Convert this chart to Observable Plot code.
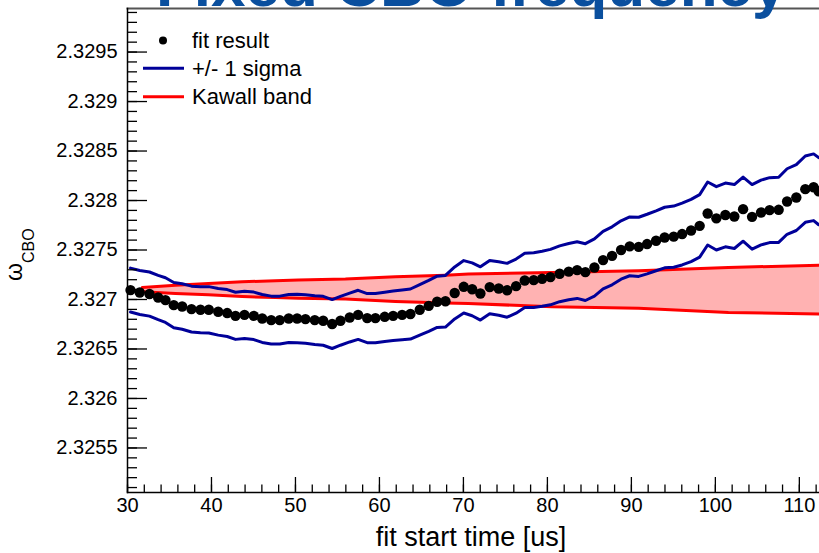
<!DOCTYPE html>
<html><head><meta charset="utf-8">
<script src="https://cdn.jsdelivr.net/npm/d3@7"></script>
<script src="https://cdn.jsdelivr.net/npm/@observablehq/plot@0.6"></script>
<style>
body{margin:0;background:#fff;}
#chart{position:relative;width:819px;height:553px;overflow:hidden;}
</style>
</head><body><div id="chart"></div>
<script>
// fit start time [us]
const fitX = [30.36,31.46,32.62,33.65,34.52,35.51,36.51,37.62,38.69,39.68,
  40.80,41.87,42.86,43.93,45.04,46.04,47.11,48.13,49.20,50.20,
  51.19,52.30,53.30,54.37,55.36,56.46,57.46,58.54,59.52,60.63,
  61.63,62.70,63.69,64.80,65.87,66.87,67.86,68.96,70.04,71.04,
  72.02,73.13,74.20,75.20,76.27,77.30,78.37,79.37,80.36,81.46,
  82.54,83.54,84.52,85.60,86.63,87.70,88.77,89.80,90.87,91.87,
  92.94,93.96,95.04,96.04,97.11,98.13,99.08,100.12,101.19,102.26,
  103.30,104.37,105.44,106.46,107.54,108.54,109.64,110.71,111.70,112.30];
// fitted omega_CBO
const fitY = [2.327095,2.327071,2.327055,2.327020,2.326994,2.326943,2.326929,2.326903,2.326896,2.326896,
  2.326876,2.326863,2.326835,2.326845,2.326835,2.326808,2.326792,2.326792,2.326808,2.326808,
  2.326802,2.326792,2.326785,2.326752,2.326785,2.326818,2.326845,2.326812,2.326812,2.326825,
  2.326835,2.326845,2.326853,2.326896,2.326936,2.326977,2.326982,2.327066,2.327128,2.327103,
  2.327061,2.327125,2.327111,2.327093,2.327135,2.327192,2.327196,2.327209,2.327226,2.327260,
  2.327282,2.327297,2.327277,2.327323,2.327398,2.327441,2.327500,2.327537,2.327532,2.327560,
  2.327593,2.327626,2.327635,2.327661,2.327697,2.327744,2.327869,2.327820,2.327854,2.327838,
  2.327913,2.327835,2.327879,2.327903,2.327906,2.327990,2.328030,2.328115,2.328134,2.328094];
// 1 sigma uncertainty
const sigma = [0.000222,0.000222,0.000223,0.000224,0.000226,0.000228,0.000230,0.000232,0.000232,0.000234,
  0.000236,0.000237,0.000238,0.000239,0.000240,0.000242,0.000242,0.000242,0.000243,0.000244,
  0.000245,0.000246,0.000247,0.000247,0.000247,0.000247,0.000248,0.000248,0.000249,0.000249,
  0.000250,0.000251,0.000253,0.000255,0.000257,0.000259,0.000261,0.000263,0.000265,0.000267,
  0.000269,0.000270,0.000271,0.000272,0.000273,0.000274,0.000276,0.000278,0.000280,0.000282,
  0.000284,0.000286,0.000287,0.000289,0.000291,0.000293,0.000295,0.000297,0.000299,0.000301,
  0.000303,0.000306,0.000309,0.000312,0.000314,0.000316,0.000318,0.000320,0.000322,0.000323,
  0.000324,0.000326,0.000327,0.000328,0.000329,0.000331,0.000333,0.000335,0.000337,0.000339];
// Kawall band
const kawallX = [31.75,35.71,39.64,43.65,47.62,50.36,55.95,61.90,67.86,70.60,80.56,90.87,101.55,112.40];
const kawallHigh = [2.327121,2.327145,2.327162,2.327179,2.327189,2.327196,2.327206,2.327229,2.327246,2.327257,2.327273,2.327290,2.327323,2.327347];
const kawallLow = [2.327078,2.327061,2.327047,2.327030,2.327020,2.327012,2.327004,2.326980,2.326964,2.326960,2.326926,2.326912,2.326869,2.326853];
// ticks
const xMajor = [30,40,50,60,70,80,90,100,110];
const yMajor = [2.3255,2.326,2.3265,2.327,2.3275,2.328,2.3285,2.329,2.3295];
const legendLabels = ["fit result","+/- 1 sigma","Kawall band"];
const titleText = "Fixed CBO frequency";
const xLabel = "fit start time [us]";

const pts = fitX.map((x,i)=>({x, y: fitY[i], s: sigma[i]}));
const band = kawallX.map((x,i)=>({x, lo: kawallLow[i], hi: kawallHigh[i]}));
const xMinor = d3.range(30, 113, 2);
const yMinor = d3.range(23251, 23300).map(v => v/10000);

const BLUE = "#000099", RED = "#ff0000";
const font = "Liberation Sans, Arial, Helvetica, sans-serif";

const plot = Plot.plot({
  width: 819, height: 553,
  marginLeft: 127, marginRight: 0, marginTop: 8, marginBottom: 61,
  style: {fontFamily: font, background: "#fff", color: "#000"},
  x: {domain: [30, 112.4]},
  y: {domain: [2.32505, 2.32994]},
  marks: [
    Plot.areaY(band, {x: "x", y1: "lo", y2: "hi", fill: RED, fillOpacity: 0.3}),
    Plot.line(band, {x: "x", y: "hi", stroke: RED, strokeWidth: 3}),
    Plot.line(band, {x: "x", y: "lo", stroke: RED, strokeWidth: 3}),
    Plot.line(pts, {x: "x", y: d => d.y + d.s, stroke: BLUE, strokeWidth: 3, strokeLinejoin: "round"}),
    Plot.line(pts, {x: "x", y: d => d.y - d.s, stroke: BLUE, strokeWidth: 3, strokeLinejoin: "round"}),
    Plot.dot(pts, {x: "x", y: "y", r: 5.2, fill: "#000", stroke: null}),
    Plot.axisY(yMinor, {tickSize: -10, tickFormat: () => "", label: null, strokeWidth: 1.3}),
    Plot.axisY(yMajor, {tickSize: -20, tickFormat: () => "", label: null, strokeWidth: 1.3}),
    Plot.axisY(yMajor, {tickSize: 0, tickPadding: 10, fontSize: 20, label: null, tickFormat: d => String(+d.toFixed(4))}),
    Plot.axisX(xMinor, {tickSize: -7.5, tickFormat: () => "", label: null, strokeWidth: 1.3}),
    Plot.axisX(xMajor, {tickSize: -15, tickFormat: () => "", label: null, strokeWidth: 1.3}),
    Plot.axisX(xMajor, {tickSize: 0, tickPadding: 5, fontSize: 20, label: null, tickFormat: d => String(d)}),
    Plot.frame({anchor: "top", stroke: "#555", strokeWidth: 2}),
    Plot.frame({anchor: "left", stroke: "#000", strokeWidth: 1.5}),
    Plot.frame({anchor: "bottom", stroke: "#000", strokeWidth: 1.5})
  ]
});
document.getElementById("chart").appendChild(plot);

const svg = d3.select(plot);
// title (cut off at top like the reference)
svg.append("text").attr("x", 156).attr("y", 6).attr("text-anchor", "start")
  .attr("font-family", font).attr("font-weight", "bold").attr("font-size", 62)
  .attr("fill", "#0a4f9e").text(titleText);
// x label
svg.append("text").attr("x", 471).attr("y", 546).attr("text-anchor", "middle")
  .attr("font-family", font).attr("font-size", 27).attr("fill", "#000").text(xLabel);
// y label with subscript
const yl = svg.append("text").attr("transform", "translate(22,281) rotate(-90)")
  .attr("text-anchor", "start").attr("font-family", font).attr("fill", "#000");
yl.append("tspan").attr("font-size", 23).text("ω");
yl.append("tspan").attr("font-size", 16).attr("dy", 12).text("CBO");
// legend
const lg = svg.append("g").attr("font-family", font).attr("font-size", 22).attr("text-anchor", "start");
lg.append("circle").attr("cx", 163).attr("cy", 40.5).attr("r", 4).attr("fill", "#000");
lg.append("line").attr("x1", 143).attr("x2", 184).attr("y1", 68.3).attr("y2", 68.3).attr("stroke", BLUE).attr("stroke-width", 3);
lg.append("line").attr("x1", 143).attr("x2", 184).attr("y1", 96.7).attr("y2", 96.7).attr("stroke", RED).attr("stroke-width", 3);
[40, 68.3, 96.7].forEach((cy, i) => {
  lg.append("text").attr("x", 192).attr("y", cy).attr("dy", "0.35em").attr("fill", "#000").text(legendLabels[i]);
});
</script>
</body></html>
